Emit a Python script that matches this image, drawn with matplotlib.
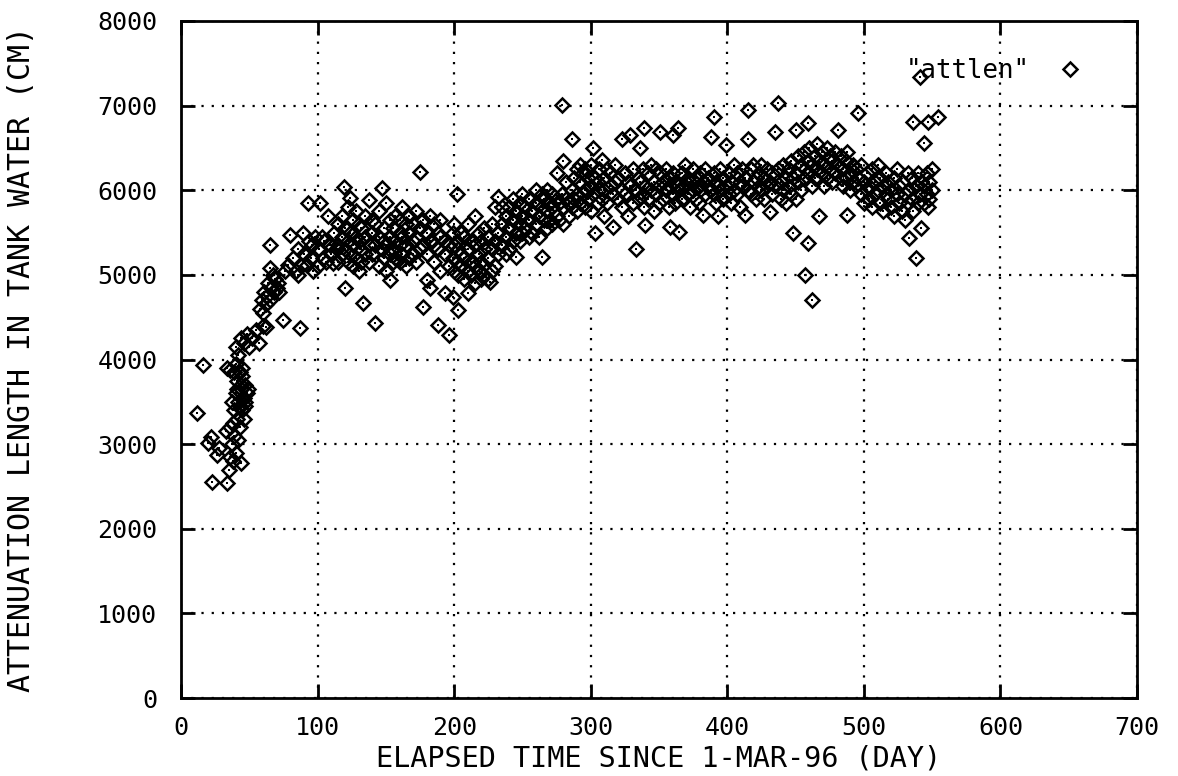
import matplotlib
matplotlib.use('Agg')
import numpy as np
import matplotlib.pyplot as plt
from matplotlib.lines import Line2D

# early points, days 12-52
early_day = [12, 16, 20, 22, 23, 26, 28, 34, 35, 33, 36, 37, 38, 38, 39, 39,
             40, 40, 41, 41, 42, 42, 43, 43, 44, 44, 45, 45, 46, 46, 47, 47, 48,
             36, 37, 39, 41, 43, 45, 47, 49, 34, 36, 40, 44]
early_len = [3370, 3940, 3010, 3080, 2550, 2870, 2950, 2540, 2700, 3150, 2850, 3000, 3250, 2800, 3100, 3400,
             2900, 3600, 3300, 3750, 3050, 3500, 3200, 3850, 2780, 3650, 3400, 3900, 3550, 3300, 3700, 3450, 3600,
             3200, 3500, 3850, 3650, 3450, 3800, 3500, 3650, 3900, 3880, 3950, 3700]

# rise, days 40-115
rise_day = [40, 42, 44, 46, 48, 50, 52, 55, 57, 60, 62, 75, 87,
            58, 59, 60, 61, 62, 63, 64, 65, 66, 67, 68, 69, 70, 71, 72, 65, 65, 78, 76,
            80, 82, 84, 86, 88, 89, 90, 92, 93, 94, 95, 96, 98,
            100, 101, 102, 103, 104, 105, 106, 108, 109, 110, 111, 112, 114, 86, 97]
rise_len = [4150, 4050, 4250, 4200, 4300, 4150, 4250, 4350, 4200, 4400, 4380, 4470, 4370,
            4600, 4700, 4550, 4800, 4650, 4750, 4900, 4700, 4850, 5000, 4800, 4950, 4850, 4900, 4800, 5080, 5350, 5120, 5050,
            5470, 5200, 5050, 5300, 5100, 5500, 5250, 5120, 5850, 5400, 5200, 5350, 5450,
            5100, 5300, 5850, 5450, 5200, 5400, 5150, 5690, 5350, 5250, 5140, 5500, 5300, 5000, 5050]

# first plateau, days 115-232 (values per day)
plat1_day = [115, 118, 119, 120, 122, 124, 126, 128, 130, 132, 133, 135, 138, 140, 142, 145,
             147, 149, 150, 153, 155, 157, 160, 162, 165, 167, 170, 172, 175, 177, 180, 182,
             185, 188, 190, 193, 196, 199, 200, 202, 203, 205, 207, 210, 212, 215, 218, 220,
             222, 225, 226, 228, 230, 232]
plat1_len = [[5350, 5600, 5150], [5450, 5250, 5700], [6040], [4850, 5300, 5550],
             [5150, 5400, 5800], [5910, 5250, 5500], [5350, 5650, 5100], [5200, 5450, 5750],
             [5400, 5050, 5600], [5300, 5550, 5150], [4670], [5450, 5700, 5250],
             [5890, 5350, 5150], [5500, 5250, 5650], [4430, 5350, 5600], [5100, 5450, 5750],
             [6030, 5300], [5200, 5550, 5400], [5850, 5350, 5050], [4940, 5450, 5250, 5650],
             [5300, 5550, 5150], [5400, 5700, 5200], [5350, 5500, 5150, 5650], [5250, 5450, 5800],
             [5350, 5600, 5100], [5500, 5200, 5700], [5400, 5250, 5600], [5150, 5450, 5750],
             [6220, 5300, 5550], [4620, 5350, 5650], [4940, 5250, 5500], [4850, 5400, 5700],
             [5150, 5350, 5600], [4410, 5300, 5500], [5050, 5450, 5650], [4790, 5250, 5400],
             [4290, 5100, 5350], [4740, 5200, 5500], [5050, 5350, 5600], [5950, 5150, 5400],
             [4590, 5000, 5300], [5100, 5250, 5500], [4950, 5200, 5450], [4790, 5050, 5300, 5600],
             [5000, 5150, 5400], [4900, 5100, 5350, 5700], [5050, 5250, 5500], [4950, 5150, 5400],
             [5000, 5300, 5550], [4950, 5200, 5450], [4920], [5050, 5300, 5600],
             [5100, 5400, 5800], [5920, 5250, 5500]]

# second rise, days 235-290
rise2_day = [235, 238, 240, 243, 245, 248, 250, 252, 255, 257, 260, 262, 264, 266,
             268, 270, 272, 275, 277, 279, 280, 282, 284, 286, 288, 290]
rise2_len = [[5350, 5600, 5800], [5450, 5700, 5250], [5550, 5800, 5300], [5650, 5400, 5900],
             [5210, 5500, 5750], [5600, 5850, 5400], [5700, 5500, 5950], [5550, 5800],
             [5650, 5900, 5450], [5750, 5500], [5850, 5600, 6000], [5700, 5450],
             [5210, 5800, 5950], [5650, 5900], [5750, 5550, 6000], [5850, 5650],
             [5800, 5950, 5600], [6200, 5900, 5700], [5850, 5650], [7010, 5950],
             [6340, 5800, 5600], [5900, 6100], [5850, 5700], [6600, 6000, 5800],
             [6150, 5900], [6250, 5950, 5750]]

# second plateau, days 292-554
plat2_day = [292, 294, 296, 298, 300, 302, 303, 305, 306, 308, 310, 312, 314, 316, 318, 320,
             323, 325, 327, 329, 331, 333, 335, 336, 338, 339, 340, 342, 344, 346, 348, 350,
             351, 353, 355, 357, 358, 360, 362, 364, 365, 367, 369, 371, 373, 375, 377, 379,
             380, 382, 384, 386, 388, 390, 392, 393, 395, 397, 399, 401, 403, 405, 407, 409,
             411, 413, 415, 417, 419, 421, 423, 425, 427, 429, 431, 433, 435, 437, 439, 441,
             443, 445, 447, 448, 450, 452, 454, 456, 457, 459, 460, 462, 464, 466, 467, 469,
             471, 473, 475, 477, 479, 481, 483, 485, 487, 488, 490, 492, 494, 496, 498, 500,
             502, 504, 506, 508, 510, 512, 514, 516, 518, 520, 522, 524, 526, 528, 530, 532,
             533, 535, 536, 538, 540, 541, 542, 544, 546, 547, 548, 550, 554]
plat2_len = [[6100, 5850, 6300], [6200, 5950], [6000, 6250, 5800], [6150, 5900],
             [6050, 6300, 5750], [6500, 5950], [5500, 6150], [6100, 5850],
             [6250, 6000], [6360, 5900], [6150, 5700, 6000], [6250, 5850],
             [6050, 6200], [5570, 5950], [6100, 6300], [5900, 6150],
             [6600, 6000, 5800], [6200, 5950], [5700, 6100], [6650, 6050],
             [5850, 6250], [6000, 5300], [6150, 5900], [6500, 6100],
             [5950, 6250], [6740, 5800], [5590, 6050], [6200, 5900],
             [6000, 6300], [6100, 5750], [6250, 5950], [6050, 5850],
             [6690, 6200], [5900, 6100], [6000, 6250], [5800, 6150],
             [5570, 6050], [6650, 5950, 6200], [6100, 5850], [6740, 6050],
             [5510, 6000], [6200, 5900], [6050, 6300], [5950, 6150],
             [6100, 5800], [6250, 6000], [5900, 6150], [6050, 5850],
             [6200, 6000], [5710, 6100], [6250, 5950], [6050, 6150],
             [6630, 6000], [6870, 5950, 6200], [6100, 5850], [5690, 6050],
             [6250, 6000], [5900, 6150], [6540, 6050], [6200, 5950],
             [6100, 5850], [6300, 6000], [5950, 6200], [6100, 5800],
             [6250, 6050], [5710, 6150], [6950, 6600, 6000], [6250, 5950],
             [6100, 6300], [5900, 6150], [6200, 6050], [6000, 6300],
             [6150, 5900], [6250, 6050], [5740, 6100], [6200, 5950],
             [6690, 6050], [7030, 6250], [6100, 5900], [6300, 6000],
             [6150, 5850], [6250, 6050], [5950, 6350], [5500, 6150],
             [6710, 6200, 5900], [6100, 6400], [6300, 6000], [6450, 6150],
             [5000, 6250], [6800, 5380, 6350], [6200, 6500], [4700, 6300, 6050],
             [6400, 6150], [6550, 6250], [5690, 6350], [6200, 6450],
             [6300, 6050], [6500, 6150], [6250, 6400], [6100, 6350],
             [6450, 6200], [6710, 6300], [6150, 6400], [6250, 6050],
             [6350, 6150], [5710, 6450], [6200, 6000], [6300, 6100],
             [6050, 6250], [6910, 6150], [5950, 6300], [6100, 5850],
             [6200, 6000], [6050, 5900], [6250, 5800], [6100, 5950],
             [6000, 6300], [5850, 6150], [6050, 5750], [6200, 5950],
             [5900, 6100], [6000, 5800], [6150, 5700], [5950, 6250],
             [6050, 5850], [5750, 6100], [5950, 5650], [6200, 5850],
             [5440, 6000], [5900, 6150], [6810, 5750], [5200, 6050],
             [5850, 6200], [7340, 5950], [5550, 6100], [6560, 5850, 6050],
             [6200, 5950], [6810, 5800], [6100, 5900], [6250, 6000], [6860]]


def expand(days, groups):
    d = [day for day, g in zip(days, groups) for _ in g]
    v = [val for g in groups for val in g]
    return d, v


p1d, p1v = expand(plat1_day, plat1_len)
r2d, r2v = expand(rise2_day, rise2_len)
p2d, p2v = expand(plat2_day, plat2_len)

day = np.array(early_day + rise_day + p1d + r2d + p2d, dtype=float)
attlen = np.array(early_len + rise_len + p1v + r2v + p2v, dtype=float)

plt.rcParams['font.family'] = ['DejaVu Sans Mono']

fig = plt.figure(figsize=(11.78, 7.76), dpi=100)
ax = fig.add_axes([181 / 1178, 1 - 698 / 776, (1137 - 181) / 1178, (698 - 21) / 776])

mk = dict(linestyle='none', marker='D', markersize=7.4,
          markerfacecolor='none', markeredgecolor='black', markeredgewidth=1.8)
ax.plot(day, attlen, **mk)
ax.plot(day, attlen, linestyle='none', marker='s', markersize=1.6,
        markerfacecolor='black', markeredgecolor='black', markeredgewidth=0)

ax.set_xlim(0, 700)
ax.set_ylim(0, 8000)
ax.set_xticks(np.arange(0, 701, 100))
ax.set_yticks(np.arange(0, 8001, 1000))
ax.tick_params(direction='in', length=10, width=2, top=True, right=True,
               labelsize=18, colors='black')
ax.tick_params(axis='x', pad=13)
ax.tick_params(axis='y', pad=17)
for s in ax.spines.values():
    s.set_linewidth(2)
ax.grid(True, color='black', linestyle=(0, (1, 3.6)), linewidth=1.6, dash_capstyle='butt')
ax.set_axisbelow(True)

ax.set_xlabel('ELAPSED TIME SINCE 1-MAR-96 (DAY)', fontsize=20.5, labelpad=3)
ax.set_ylabel('ATTENUATION LENGTH IN TANK WATER (CM)', fontsize=21.5, labelpad=44)

handle = Line2D([], [], **mk)
ax.legend([handle], ['"attlen"'], loc='upper right', frameon=False, markerfirst=False,
          fontsize=18.5, handlelength=1.0, handletextpad=1.1,
          bbox_to_anchor=(0.968, 0.98))

fig.savefig('out.png', dpi=100)
